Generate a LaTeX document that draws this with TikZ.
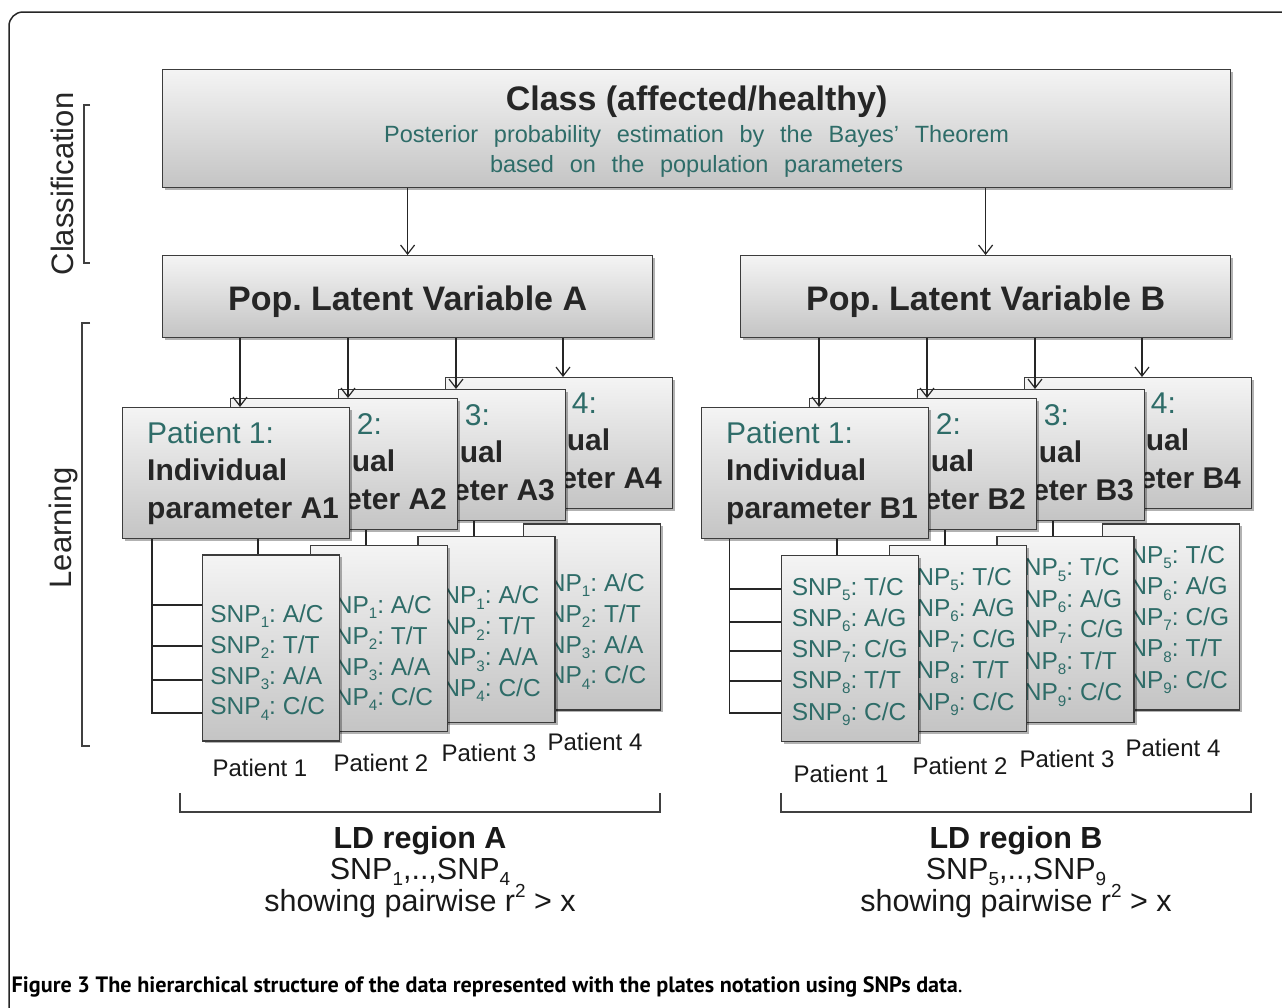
\documentclass[tikz,border=0pt]{standalone}
\usepackage{fontspec}
\setmainfont{Liberation Sans}
\newfontfamily\capfont{PT Sans}
\usepackage{graphicx}
\usetikzlibrary{arrows.meta,shadows,calc}

\definecolor{tealtx}{RGB}{46,108,104}
\definecolor{darktx}{RGB}{38,38,38}
\definecolor{edgec}{RGB}{60,60,60}
\definecolor{gtop}{RGB}{244,244,244}
\definecolor{gbot}{RGB}{196,196,196}

\newcommand{\fsz}[2]{\fontsize{#1pt}{#2pt}\selectfont}
\newcommand{\sbs}[1]{\raisebox{-0.22em}{\scalebox{0.62}{#1}}}
\newcommand{\sps}[1]{\raisebox{0.45em}{\scalebox{0.62}{#1}}}
% part of a text that is hidden behind the box in front (boxes 2-4)
\newcommand{\hid}[1]{\ifnum\i=1 #1\else\hphantom{#1}\fi}

\tikzset{
  gbox/.style={draw=edgec, line width=1.2pt, top color=gtop, bottom color=gbot,
    inner sep=0pt, anchor=north west,
    drop shadow={shadow xshift=2.5pt, shadow yshift=-2.5pt, opacity=0.3, fill=black}},
  parbox/.style={gbox, minimum width=227pt, minimum height=131pt},
  snpbox/.style={gbox, minimum width=137pt, minimum height=186pt},
  tl/.style={anchor=base west, inner sep=0pt},
  tc/.style={anchor=base, inner sep=0pt},
  arr/.style={draw=black!85, line width=1.2pt,
    -{Straight Barb[length=9pt,width=14pt,line width=1.2pt]}},
  conn/.style={draw=black!85, line width=1.2pt},
  brk/.style={draw=black!75, line width=1.2pt},
  partx/.style={tl, text=tealtx, font=\fsz{30}{36}},
  parbx/.style={tl, text=darktx, font=\fsz{30}{36}\bfseries},
  snptx/.style={tl, text=tealtx, font=\fsz{24.5}{30}},
  pattx/.style={tc, text=black!90, font=\fsz{24}{29}},
  ldtx/.style={tc, text=black!90, font=\fsz{30.5}{35}},
}

\begin{document}
\frenchspacing
\begin{tikzpicture}[x=1pt,y=-1pt]
\useasboundingbox (0,0) rectangle (1282,1007);
\clip (0,0) rectangle (1282,1007);
\fill[white] (0,0) rectangle (1282,1007);

% outer frame
\draw[line width=1.5pt, black!85, rounded corners=14pt] (9,1030) -- (9,12) -- (1310,12);

% side labels and brackets
\node[rotate=90, anchor=base, inner sep=0pt, text=darktx, font=\fsz{31}{36}] (lblcls) at (73,184) {Classification};
\node[rotate=90, anchor=base, inner sep=0pt, text=darktx, font=\fsz{31}{36}] (lbllrn) at (71,528) {Learning};
\draw[brk] (90,105) -- (84,105) -- (84,263) -- (90,263);
\draw[brk] (90,323) -- (82,323) -- (82,746) -- (90,746);

% class box
\node[gbox, minimum width=1068pt, minimum height=118pt] (cls) at (162,69) {};
\node[tc, text=darktx, font=\fsz{34}{40}\bfseries] (clsT) at ($(cls.center)+(0,-18)$) {Class (affected/healthy)};
\node[tc, text=tealtx, font=\fsz{23.5}{28}] (clsS1) at ($(cls.center)+(0,13.5)$) {\spaceskip=0.67em\relax Posterior probability estimation by the Bayes' Theorem};
\node[tc, text=tealtx, font=\fsz{23.5}{28}] (clsS2) at ($(cls.center)+(0,43.5)$) {\spaceskip=0.67em\relax based on the population parameters};

% population boxes
\node[gbox, minimum width=490pt, minimum height=82pt] (popA) at (162,255) {};
\node[tc, text=darktx, font=\fsz{34}{40}\bfseries] (popAT) at ($(popA.center)+(0,14)$) {Pop. Latent Variable A};
\node[gbox, minimum width=490pt, minimum height=82pt] (popB) at (740,255) {};
\node[tc, text=darktx, font=\fsz{34}{40}\bfseries] (popBT) at ($(popB.center)+(0,14)$) {Pop. Latent Variable B};

\draw[arr] (cls.south -| popA.north) -- (popA.north);
\draw[arr] (cls.south -| popB.north) -- (popB.north);

% ---------- side A ----------
\foreach \i/\x/\y in {4/445/377,3/338/389,2/230/398,1/122/407}{
  \node[parbox] (pA\i) at (\x,\y) {};
  \node[partx] (pA\i-a) at ($(pA\i.north west)+(25,36.5)$) {\hid{Patient }\i:};
  \node[parbx] (pA\i-b) at ($(pA\i.north west)+(25,73)$) {\hid{Indivi}dual};
  \node[parbx] (pA\i-c) at ($(pA\i.north west)+(25,111)$) {\hid{param}eter A\i};
}
\foreach \i/\x/\y in {4/522.9/523.3,3/417.4/535.7,2/309.8/545,1/201.7/554.3}{
  \node[snpbox] (sA\i) at (\x,\y) {};
  \node[snptx] (sA\i-1) at ($(sA\i.north west)+(8.5,68)$) {\hid{S}NP\sbs{1}: A/C};
  \node[snptx] (sA\i-2) at ($(sA\i.north west)+(8.5,99)$) {\hid{S}NP\sbs{2}: T/T};
  \node[snptx] (sA\i-3) at ($(sA\i.north west)+(8.5,130)$) {\hid{S}NP\sbs{3}: A/A};
  \node[snptx] (sA\i-4) at ($(sA\i.north west)+(8.5,160.5)$) {\hid{S}NP\sbs{4}: C/C};
}
\foreach \i in {1,2,3,4}{
  \path ($(pA\i.north west)+(118,0)$) coordinate (tA\i);
  \draw[arr] (tA\i |- popA.south) -- (tA\i);
}
\foreach \i in {1,2,3}{
  \path ($(pA\i.south west)+(136,0)$) coordinate (cA\i);
  \draw[conn] (cA\i) -- (cA\i |- sA\i.north);
}
\path ($(pA1.south west)+(30,0)$) coordinate (vA);
\path (sA1.north west) ++(0,50.7) coordinate (hA1);
\path (sA1.north west) ++(0,91.7) coordinate (hA2);
\path (sA1.north west) ++(0,125.7) coordinate (hA3);
\path (sA1.north west) ++(0,158.7) coordinate (hA4);
\draw[conn] (vA) -- (vA |- hA4) -- (hA4);
\foreach \k in {1,2,3}{ \draw[conn] (vA |- hA\k) -- (hA\k); }

\node[pattx] (labA1) at (260,776) {Patient 1};
\node[pattx] (labA2) at (381,771) {Patient 2};
\node[pattx] (labA3) at (489,761.5) {Patient 3};
\node[pattx] (labA4) at (595,750.5) {Patient 4};

% ---------- side B ----------
\foreach \i/\x/\y in {4/1024/377,3/917/389,2/809/398,1/701/407}{
  \node[parbox] (pB\i) at (\x,\y) {};
  \node[partx] (pB\i-a) at ($(pB\i.north west)+(25,36.5)$) {\hid{Patient }\i:};
  \node[parbx] (pB\i-b) at ($(pB\i.north west)+(25,73)$) {\hid{Indivi}dual};
  \node[parbx] (pB\i-c) at ($(pB\i.north west)+(25,111)$) {\hid{param}eter B\i};
}
\foreach \i/\x/\y in {4/1101.9/523.3,3/996.4/535.7,2/888.8/545,1/780.6/555}{
  \node[snpbox] (sB\i) at (\x,\y) {};
  \node[snptx] (sB\i-1) at ($(sB\i.north west)+(11,40)$) {\hid{S}NP\sbs{5}: T/C};
  \node[snptx] (sB\i-2) at ($(sB\i.north west)+(11,71.5)$) {\hid{S}NP\sbs{6}: A/G};
  \node[snptx] (sB\i-3) at ($(sB\i.north west)+(11,102)$) {\hid{S}NP\sbs{7}: C/G};
  \node[snptx] (sB\i-4) at ($(sB\i.north west)+(11,133.3)$) {\hid{S}NP\sbs{8}: T/T};
  \node[snptx] (sB\i-5) at ($(sB\i.north west)+(11,165)$) {\hid{S}NP\sbs{9}: C/C};
}
\foreach \i in {1,2,3,4}{
  \path ($(pB\i.north west)+(118,0)$) coordinate (tB\i);
  \draw[arr] (tB\i |- popB.south) -- (tB\i);
}
\foreach \i in {1,2,3}{
  \path ($(pB\i.south west)+(136,0)$) coordinate (cB\i);
  \draw[conn] (cB\i) -- (cB\i |- sB\i.north);
}
\path ($(pB1.south west)+(28.6,0)$) coordinate (vB);
\path (sB1.north west) ++(0,34) coordinate (hB1);
\path (sB1.north west) ++(0,67) coordinate (hB2);
\path (sB1.north west) ++(0,96) coordinate (hB3);
\path (sB1.north west) ++(0,126) coordinate (hB4);
\path (sB1.north west) ++(0,158) coordinate (hB5);
\draw[conn] (vB) -- (vB |- hB5) -- (hB5);
\foreach \k in {1,2,3,4}{ \draw[conn] (vB |- hB\k) -- (hB\k); }

\node[pattx] (labB1) at (841,782) {Patient 1};
\node[pattx] (labB2) at (960,774) {Patient 2};
\node[pattx] (labB3) at (1067,767) {Patient 3};
\node[pattx] (labB4) at (1173,756) {Patient 4};

% ---------- bottom brackets and LD labels ----------
\draw[brk] (180,793) -- (180,812) -- (660,812) -- (660,793);
\draw[brk] (781,793) -- (781,812) -- (1251,812) -- (1251,793);

\node[ldtx, font=\fsz{30.5}{35}\bfseries] (ldA1) at (420,848) {LD region A};
\node[ldtx] (ldA2) at (420,879) {SNP\sbs{1},..,SNP\sbs{4}};
\node[ldtx] (ldA3) at (420,911.5) {showing pairwise r\sps{2} > x};
\node[ldtx, font=\fsz{30.5}{35}\bfseries] (ldB1) at (1016,848) {LD region B};
\node[ldtx] (ldB2) at (1016,879) {SNP\sbs{5},..,SNP\sbs{9}};
\node[ldtx] (ldB3) at (1016,911.5) {showing pairwise r\sps{2} > x};

% caption
\node[anchor=base west, inner sep=0pt, text=black, font=\capfont\fsz{19}{23}] (caption) at (11.5,992)
  {\resizebox{951pt}{!}{\textbf{Figure 3 The hierarchical structure of the data represented with the plates notation using SNPs data}.}};
\end{tikzpicture}
\end{document}
